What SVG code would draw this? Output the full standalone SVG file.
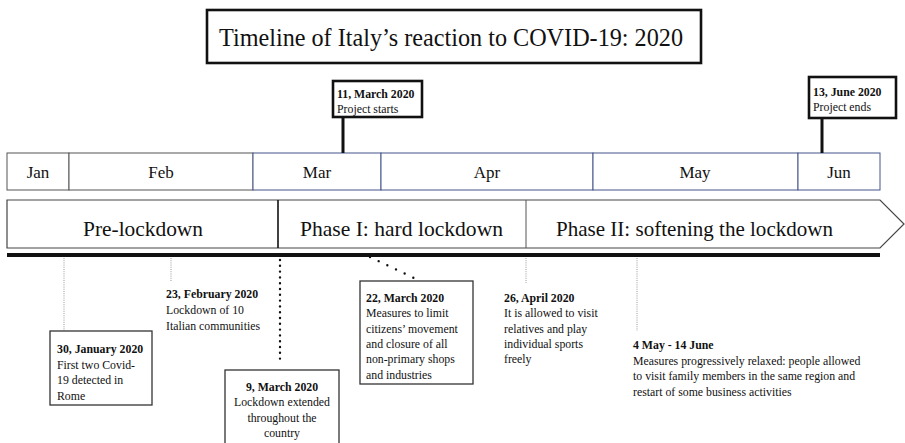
<svg xmlns="http://www.w3.org/2000/svg" width="905" height="443" viewBox="0 0 905 443">
<style>
text{font-family:"Liberation Serif","Times New Roman",serif;fill:#111}
.s{font-size:11.8px}
.b{font-weight:bold}
.m{font-size:17px;text-anchor:middle}
.p{font-size:22px}
.box{fill:#fff;stroke:#333;stroke-width:1.3}
.pbox{fill:#fff;stroke:#111;stroke-width:2.6}
.gd{stroke:#999;stroke-width:1;stroke-dasharray:1 1.2;fill:none}
.bd{stroke:#111;stroke-width:2.4;stroke-dasharray:0 5.8;stroke-linecap:round;fill:none}
</style>
<rect width="905" height="443" fill="#fff"/>
<g id="title">
<rect x="207" y="10" width="494" height="53" fill="#fff" stroke="#111" stroke-width="2.6"/>
<text x="219" y="46" font-size="26" textLength="464" lengthAdjust="spacingAndGlyphs">Timeline of Italy’s reaction to COVID-19: 2020</text>
</g>
<g id="months">
<rect x="7" y="153" width="62" height="37" fill="#fff" stroke="#555" stroke-width="1"/>
<rect x="69" y="153" width="184" height="37" fill="#fff" stroke="#555" stroke-width="1"/>
<rect x="253" y="153" width="128" height="37" fill="#fff" stroke="#44548c" stroke-width="1"/>
<rect x="381" y="153" width="212" height="37" fill="#fff" stroke="#44548c" stroke-width="1"/>
<rect x="593" y="153" width="205" height="37" fill="#fff" stroke="#44548c" stroke-width="1"/>
<rect x="798" y="153" width="82" height="37" fill="#fff" stroke="#44548c" stroke-width="1"/>
<text class="m" x="38" y="178">Jan</text>
<text class="m" x="161" y="178">Feb</text>
<text class="m" x="317" y="178">Mar</text>
<text class="m" x="487" y="178">Apr</text>
<text class="m" x="695" y="178">May</text>
<text class="m" x="839" y="178">Jun</text>
</g>
<g id="phases">
<polygon points="7,200 880,200 904,224 880,248 7,248" fill="#fff" stroke="#444" stroke-width="1.2"/>
<line x1="278" y1="200" x2="278" y2="248" stroke="#111" stroke-width="1.6"/>
<line x1="526" y1="200" x2="526" y2="248" stroke="#555" stroke-width="1"/>
<text class="p" x="83" y="236" textLength="120" lengthAdjust="spacingAndGlyphs">Pre-lockdown</text>
<text class="p" x="300" y="236" textLength="203" lengthAdjust="spacingAndGlyphs">Phase I: hard lockdown</text>
<text class="p" x="556" y="236" textLength="277" lengthAdjust="spacingAndGlyphs">Phase II:  softening the lockdown</text>
<line x1="7" y1="255" x2="880" y2="255" stroke="#111" stroke-width="4"/>
</g>
<g id="connectors">
<line x1="343" y1="117" x2="343" y2="153" stroke="#111" stroke-width="3"/>
<line x1="822" y1="118" x2="822" y2="153" stroke="#111" stroke-width="3"/>
<line class="gd" x1="64" y1="258" x2="64" y2="331"/>
<line class="gd" x1="171" y1="258" x2="171" y2="282"/>
<line class="bd" x1="280" y1="260" x2="280" y2="364"/>
<path class="bd" d="M370,257 L414,278" style="stroke-dasharray:0 9.6"/>
<line class="gd" x1="526" y1="258" x2="526" y2="283"/>
<line class="gd" x1="637" y1="258" x2="637" y2="331"/>
</g>
<g id="start">
<rect class="pbox" x="333" y="81" width="89" height="36"/>
<text class="s b" x="337" y="98">11, March  2020</text>
<text class="s" x="337" y="113">Project starts</text>
</g>
<g id="end">
<rect class="pbox" x="809" y="77" width="87" height="41"/>
<text class="s b" x="813" y="96">13, June  2020</text>
<text class="s" x="813" y="111">Project ends</text>
</g>
<g id="jan30">
<rect class="box" x="50" y="331" width="102" height="74"/>
<text class="s b" x="57" y="353">30, January 2020</text>
<text class="s" x="57" y="369">First two Covid-</text>
<text class="s" x="57" y="384">19 detected in</text>
<text class="s" x="57" y="400">Rome</text>
</g>
<g id="feb23">
<text class="s b" x="166" y="298">23, February  2020</text>
<text class="s" x="166" y="314">Lockdown of 10</text>
<text class="s" x="166" y="330">Italian communities</text>
</g>
<g id="mar9">
<rect class="box" x="225" y="370" width="114" height="80"/>
<text class="s b" x="282" y="391" text-anchor="middle">9, March 2020</text>
<text class="s" x="282" y="406" text-anchor="middle">Lockdown extended</text>
<text class="s" x="282" y="422" text-anchor="middle">throughout  the</text>
<text class="s" x="282" y="437" text-anchor="middle">country</text>
</g>
<g id="mar22">
<rect class="box" x="360" y="281" width="113" height="103"/>
<text class="s b" x="366" y="302">22, March 2020</text>
<text class="s" x="366" y="317">Measures to limit</text>
<text class="s" x="366" y="333">citizens’ movement</text>
<text class="s" x="366" y="348">and closure of all</text>
<text class="s" x="366" y="363">non-primary  shops</text>
<text class="s" x="366" y="379">and industries</text>
</g>
<g id="apr26">
<text class="s b" x="504" y="302">26, April 2020</text>
<text class="s" x="504" y="317">It is allowed to visit</text>
<text class="s" x="504" y="333">relatives and play</text>
<text class="s" x="504" y="348">individual  sports</text>
<text class="s" x="504" y="363">freely</text>
</g>
<g id="may4">
<text class="s b" x="633" y="349">4 May - 14 June</text>
<text class="s" x="633" y="365">Measures progressively relaxed:  people allowed</text>
<text class="s" x="633" y="380">to visit  family members in the same region  and</text>
<text class="s" x="633" y="396">restart of some business activities</text>
</g>
</svg>
